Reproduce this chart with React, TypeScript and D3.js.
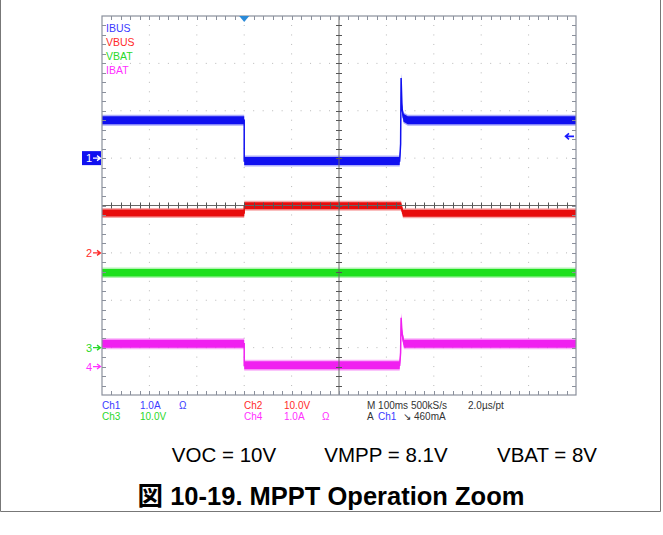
import React from 'react';
import * as d3 from 'd3';

// ---------------- data ----------------
const timeDomain = [0, 1000]; // ms (100 ms/div, 10 div)
const xDivs = 10;
const yDivs = 8;

const channelNames = ['IBUS', 'VBUS', 'VBAT', 'IBAT'];
const channelNumbers = ['1', '2', '3', '4'];
const channelPerDiv = [1.0, 10.0, 10.0, 1.0];
const channelGroundDiv = [5.0, 3.0, 1.0, 0.6];

const ibusT = [0, 300, 300, 628, 630, 631, 633, 636, 645, 1000];
const ibusV = [0.8, 0.8, -0.06, -0.06, 0.3, 1.69, 1.05, 0.85, 0.8, 0.8];
const vbusT = [0, 300, 300, 631, 635, 1000];
const vbusV = [8.4, 8.4, 9.95, 9.95, 8.35, 8.35];
const vbatT = [0, 1000];
const vbatV = [15.8, 15.8];
const ibatT = [0, 300, 300, 628, 630, 631, 633, 637, 1000];
const ibatV = [0.48, 0.48, 0.03, 0.03, 0.3, 1.03, 0.7, 0.48, 0.48];

const triggerTime = 300;
const triggerLevel = 0.46; // A on Ch1

const infoLeft = [
  ['Ch1', '1.0A', 'Ω', 'Ch2', '10.0V', ''],
  ['Ch3', '10.0V', '', 'Ch4', '1.0A', 'Ω'],
];
const timebaseText = 'M 100ms 500kS/s';
const ptText = '2.0µs/pt';
const trigText = ['A', 'Ch1', '↘', '460mA'];
const conditionTexts = ['VOC = 10V', 'VMPP = 8.1V', 'VBAT = 8V'];
const titleText = '図 10-19. MPPT Operation Zoom';

// ---------------- style ----------------
const traceColors = ['#1010f0', '#e80c0c', '#1ee01e', '#f020f0'];
const textColors = ['#3a3aff', '#ff2a2a', '#2ad82a', '#ff30ff'];
const bandHalf = [4, 3.5, 3.8, 4];
const frameColor = '#8a909c';
const scopeFont = '"Liberation Sans Narrow", "Liberation Sans", Arial, sans-serif';

const L = 102, T = 16, R = 576, B = 395;

export default function App() {
  const x = d3.scaleLinear().domain(timeDomain).range([L, R]);
  const yDiv = d3.scaleLinear().domain([0, yDivs]).range([B, T]);
  const xDivScale = d3.scaleLinear().domain([0, xDivs]).range([L, R]);

  const series = [
    { t: ibusT, v: ibusV },
    { t: vbusT, v: vbusV },
    { t: vbatT, v: vbatV },
    { t: ibatT, v: ibatV },
  ];

  const yOf = (ch: number, v: number) => yDiv(channelGroundDiv[ch] + v / channelPerDiv[ch]);

  // grid dots
  const dots: JSX.Element[] = [];
  const sub = 5;
  for (let i = 1; i < xDivs; i++) {
    if (i === xDivs / 2) continue;
    for (let k = 1; k < yDivs * sub; k++) {
      dots.push(<rect key={`vd${i}-${k}`} x={xDivScale(i) - 0.5} y={yDiv(k / sub) - 0.5} width={1} height={1} fill="#b8b8b8" />);
    }
  }
  for (let j = 1; j < yDivs; j++) {
    if (j === yDivs / 2) continue;
    for (let k = 1; k < xDivs * sub; k++) {
      if (k % sub === 0) continue;
      dots.push(<rect key={`hd${j}-${k}`} x={xDivScale(k / sub) - 0.5} y={yDiv(j) - 0.5} width={1} height={1} fill="#b8b8b8" />);
    }
  }

  // frame ticks
  const ticks: JSX.Element[] = [];
  for (let k = 1; k < xDivs * sub; k++) {
    const xx = Math.round(xDivScale(k / sub)) + 0.5;
    ticks.push(<line key={`tt${k}`} x1={xx} x2={xx} y1={T} y2={T + 4} stroke={frameColor} />);
    ticks.push(<line key={`tb${k}`} x1={xx} x2={xx} y1={B} y2={B - 4} stroke={frameColor} />);
    ticks.push(<line key={`tc${k}`} x1={xx} x2={xx} y1={yDiv(4) - 3} y2={yDiv(4) + 3} stroke="#555" />);
  }
  for (let k = 1; k < yDivs * sub; k++) {
    const yy = Math.round(yDiv(k / sub)) + 0.5;
    ticks.push(<line key={`tl${k}`} x1={L} x2={L + 4} y1={yy} y2={yy} stroke={frameColor} />);
    ticks.push(<line key={`tr${k}`} x1={R} x2={R - 4} y1={yy} y2={yy} stroke={frameColor} />);
    ticks.push(<line key={`tm${k}`} x1={xDivScale(5) - 3} x2={xDivScale(5) + 3} y1={yy} y2={yy} stroke="#555" />);
  }

  const traces = series.map((s, ch) => {
    const pts = s.t.map((t, i) => [x(t), yOf(ch, s.v[i])] as [number, number]);
    const area = (h: number) => d3.area<[number, number]>()
      .x(d => d[0])
      .y0(d => d[1] - h)
      .y1(d => d[1] + h)(pts) || '';
    const line = d3.line<[number, number]>().x(d => d[0]).y(d => d[1]);
    return (
      <g key={`tr${ch}`}>
        <path d={area(bandHalf[ch] + 1.5)} fill={traceColors[ch]} opacity={0.35} />
        <path d={area(bandHalf[ch])} fill={traceColors[ch]} />
        <path d={line(pts) || ''} fill="none" stroke={traceColors[ch]} strokeWidth={1.5} />
      </g>
    );
  });

  // channel markers
  const markers = channelNumbers.map((n, ch) => {
    const yy = yOf(ch, 0);
    const col = traceColors[ch];
    const arrow = `M${93},${yy} L${100},${yy} M${97},${yy - 2.5} L${100.5},${yy} L${97},${yy + 2.5}`;
    if (ch === 0) {
      return (
        <g key={`m${ch}`}>
          <rect x={82} y={yy - 7} width={19} height={14} fill={col} />
          <text x={86} y={yy + 4} fontSize={11} fill="#fff" fontFamily={scopeFont}>{n}</text>
          <path d={arrow} stroke="#fff" strokeWidth={1.3} fill="none" />
        </g>
      );
    }
    return (
      <g key={`m${ch}`}>
        <text x={86} y={yy + 4} fontSize={11} fill={textColors[ch]} fontFamily={scopeFont}>{n}</text>
        <path d={arrow} stroke={textColors[ch]} strokeWidth={1.3} fill="none" />
      </g>
    );
  });

  const trigY = yOf(0, triggerLevel);
  const trigX = x(triggerTime);

  const infoX = [102, 140, 179, 244, 284, 322];
  const infoColors = [
    [0, 0, 0, 1, 1, 1],
    [2, 2, 2, 3, 3, 3],
  ];
  const infoY = [408.5, 420];

  const condX = [224, 386, 547];

  return (
    <svg width={663} height={535} style={{ position: 'absolute', left: 0, top: 0, background: '#fff' }}>
      {/* outer figure border */}
      <path d="M0.5,0 L0.5,511.5 L660.5,511.5 L660.5,0" fill="none" stroke="#777" strokeWidth={1} />

      {dots}
      {traces}

      {/* centre cross */}
      <line x1={xDivScale(5)} x2={xDivScale(5)} y1={T} y2={B} stroke="#666" strokeWidth={1} />
      <line x1={L} x2={R} y1={yDiv(4)} y2={yDiv(4)} stroke="#666" strokeWidth={1} />
      {ticks}
      <rect x={L} y={T} width={R - L} height={B - T} fill="none" stroke={frameColor} strokeWidth={1.2} />

      {/* trigger markers */}
      <path d={`M${trigX - 5},${T} L${trigX + 5},${T} L${trigX},${T + 6} Z`} fill="#2a8ad8" />
      <path d={`M${R - 10},${trigY} L${R - 2},${trigY} M${R - 7},${trigY - 3} L${R - 10.5},${trigY} L${R - 7},${trigY + 3}`} stroke="#1a1aff" strokeWidth={1.6} fill="none" />

      {/* legend */}
      {channelNames.map((nm, ch) => (
        <text key={nm} x={106} y={31.5 + ch * 14} fontSize={10.5} fill={textColors[ch]} fontFamily={scopeFont}>{nm}</text>
      ))}

      {markers}

      {/* bottom info */}
      {infoLeft.map((row, r) =>
        row.map((tx, c) => tx ? (
          <text key={`i${r}-${c}`} x={infoX[c]} y={infoY[r]} fontSize={10} fill={textColors[infoColors[r][c]]} fontFamily={scopeFont}>{tx}</text>
        ) : null)
      )}
      <text x={367} y={infoY[0]} fontSize={10} fill="#333" fontFamily={scopeFont}>{timebaseText}</text>
      <text x={468} y={infoY[0]} fontSize={10} fill="#333" fontFamily={scopeFont}>{ptText}</text>
      <text x={367} y={infoY[1]} fontSize={10} fill="#333" fontFamily={scopeFont}>{trigText[0]}</text>
      <text x={378} y={infoY[1]} fontSize={10} fill={textColors[0]} fontFamily={scopeFont}>{trigText[1]}</text>
      <text x={403} y={infoY[1]} fontSize={10} fill="#333" fontFamily={scopeFont}>{trigText[2]}</text>
      <text x={414} y={infoY[1]} fontSize={10} fill="#333" fontFamily={scopeFont}>{trigText[3]}</text>

      {/* conditions */}
      {conditionTexts.map((tx, i) => (
        <text key={tx} x={condX[i]} y={462} fontSize={20.5} textAnchor="middle" fill="#000" fontFamily='"Liberation Sans", Arial, sans-serif'>{tx}</text>
      ))}
      <text x={331} y={505} fontSize={25.5} fontWeight="bold" textAnchor="middle" fill="#000" fontFamily='"Liberation Sans", Arial, "Noto Sans CJK JP", sans-serif'>{titleText}</text>
    </svg>
  );
}
